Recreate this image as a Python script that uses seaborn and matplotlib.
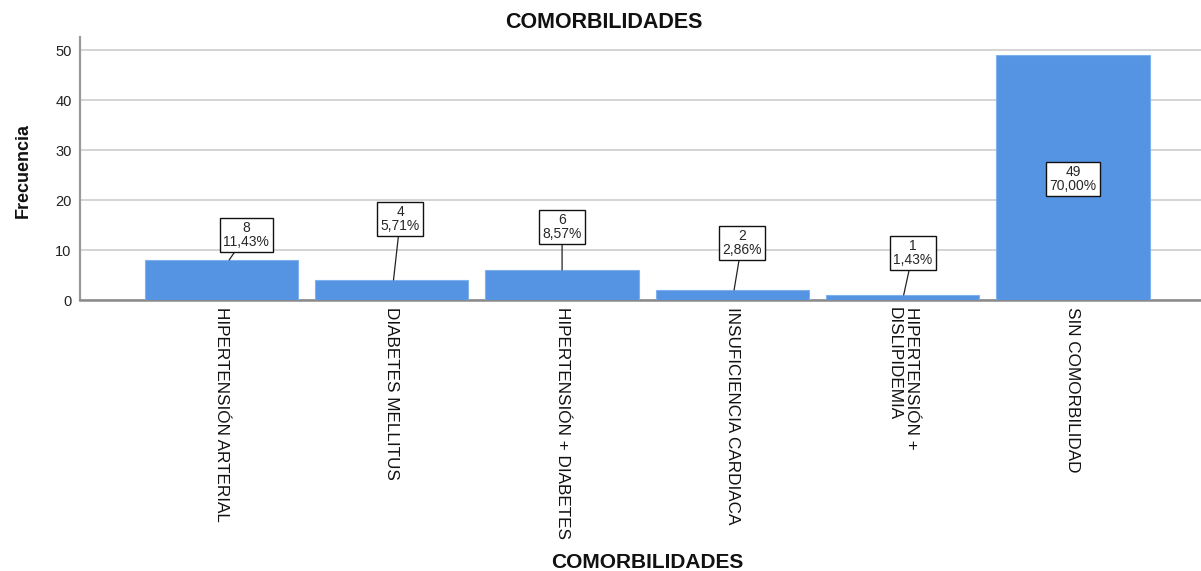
import matplotlib
matplotlib.use("Agg")
import matplotlib.pyplot as plt
import seaborn as sns

# Frequency of comorbidities in the sample
categories = [
    "HIPERTENSIÓN ARTERIAL",
    "DIABETES MELLITUS",
    "HIPERTENSIÓN + DIABETES",
    "INSUFICIENCIA CARDIACA",
    "HIPERTENSIÓN +\nDISLIPIDEMIA",
    "SIN COMORBILIDAD",
]
counts = [8, 4, 6, 2, 1, 49]
y_ticks = [0, 10, 20, 30, 40, 50]

# Placement of the value callouts (offset of box and leader line from bar centre)
box_dx = [0.145, 0.05, 0.0, 0.056, 0.06, 0.0]
box_y = [13.0, 16.2, 14.6, 11.4, 9.4, 24.2]
line_dx = [0.045, 0.01, 0.0, 0.01, 0.006, None]

sns.set_style("white")
plt.rcParams["font.family"] = ["Liberation Sans", "DejaVu Sans"]

BAR = "#5594E3"

fig = plt.figure(figsize=(12.01, 5.71), dpi=100)
ax = fig.add_axes([80 / 1201, 1 - 300 / 571, 1 - 80 / 1201, (300 - 37) / 571])

sns.barplot(x=categories, y=counts, color=BAR, width=0.9, saturation=1,
            edgecolor="#7FB0EE", linewidth=0.8, ax=ax, zorder=3)

ax.set_xlim(-0.831, 5.752)
ax.set_ylim(0, 52.6)
ax.set_yticks(y_ticks)
ax.set_yticklabels([str(v) for v in y_ticks], fontsize=10.5, color="#222222")
ax.yaxis.grid(True, color="#D4D4D4", linewidth=1.4, zorder=0)
ax.xaxis.grid(False)
ax.tick_params(axis="both", length=0)
ax.tick_params(axis="y", pad=6)
ax.tick_params(axis="x", pad=5)

for lbl in ax.get_xticklabels():
    lbl.set_rotation(-90)
    lbl.set_fontsize(12.3)
    lbl.set_va("top")
    lbl.set_ha("center")
    lbl.set_multialignment("left")
    lbl.set_color("#111111")

for side in ("top", "right"):
    ax.spines[side].set_visible(False)
ax.spines["left"].set_color("#9A9A9A")
ax.spines["left"].set_linewidth(1.6)
ax.spines["bottom"].set_color("#8A8A8A")
ax.spines["bottom"].set_linewidth(1.8)

ax.set_ylabel("Frecuencia", fontsize=13, fontweight="bold", color="#111111")
ax.yaxis.set_label_coords(-0.043, 0.494)
ax.set_xlabel("COMORBILIDADES", fontsize=15, fontweight="bold", color="#111111")
ax.xaxis.set_label_coords(0.506, -0.962)

fig.text(604 / 1201, 1 - 22 / 571, "COMORBILIDADES", ha="center", va="center",
         fontsize=15.5, fontweight="bold", color="#111111")

total = sum(counts)
for i, c in enumerate(counts):
    pct = f"{c / total * 100:.2f}".replace(".", ",") + "%"
    txt = f"{c}\n{pct}"
    bbox = dict(boxstyle="square,pad=0.25", fc="white", ec="#111111", lw=1.0)
    if line_dx[i] is None:
        ax.text(i + box_dx[i], box_y[i], txt, ha="center", va="center",
                fontsize=10, linespacing=0.95, bbox=bbox, zorder=5)
    else:
        ax.annotate(txt, xy=(i + line_dx[i], c), xytext=(i + box_dx[i], box_y[i]),
                    ha="center", va="center", fontsize=10, linespacing=0.95,
                    bbox=bbox, zorder=5,
                    arrowprops=dict(arrowstyle="-", color="#222222", lw=0.9,
                                    shrinkA=0, shrinkB=0))

fig.savefig("out.png", dpi=100)
